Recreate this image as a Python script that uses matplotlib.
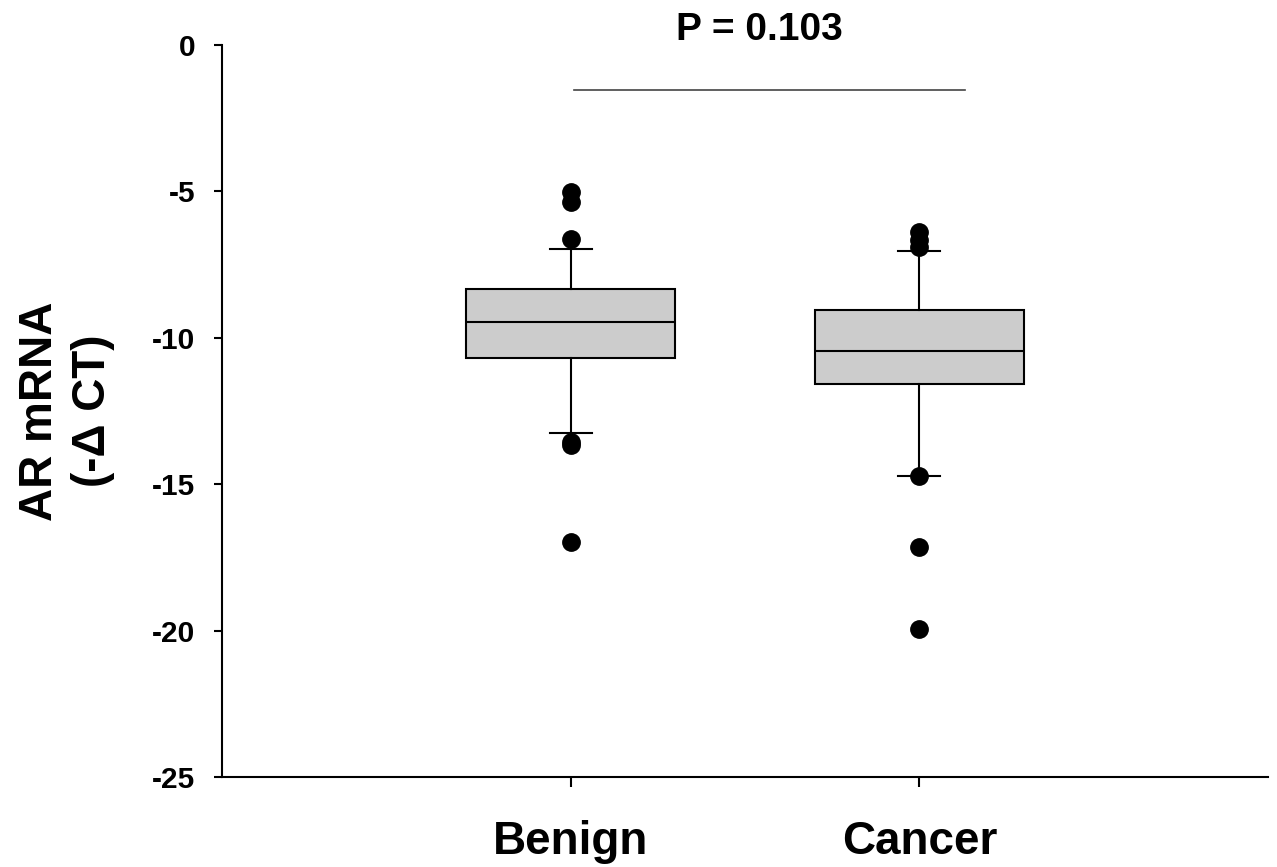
import matplotlib
matplotlib.use("Agg")
import matplotlib.pyplot as plt

plt.rcParams['font.family'] = ['Liberation Sans', 'DejaVu Sans']
plt.rcParams['font.weight'] = 'bold'

# values
groups = ['Benign', 'Cancer']
medians = [-9.46, -10.45]
q1 = [-10.69, -11.58]
q3 = [-8.33, -9.05]
whisk_lo = [-13.25, -14.72]
whisk_hi = [-6.97, -7.04]
outliers = [
    [-5.02, -5.36, -6.63, -13.56, -13.66, -16.97],
    [-6.39, -6.66, -6.90, -14.72, -17.14, -19.95],
]
p_text = 'P = 0.103'
yticks = [0, -5, -10, -15, -20, -25]

stats = []
for i, g in enumerate(groups):
    stats.append(dict(label=g, med=medians[i], q1=q1[i], q3=q3[i],
                      whislo=whisk_lo[i], whishi=whisk_hi[i], fliers=outliers[i]))

fig = plt.figure(figsize=(12.77, 8.67), dpi=100)
ax = fig.add_axes([0.1738, 0.1038, 0.993 - 0.1738, 0.948 - 0.1038])

lw = 1.5
ax.bxp(stats, positions=[1, 2], widths=0.6, patch_artist=True,
       boxprops=dict(facecolor='#cccccc', edgecolor='black', linewidth=lw),
       medianprops=dict(color='black', linewidth=lw),
       whiskerprops=dict(color='black', linewidth=lw),
       capprops=dict(color='black', linewidth=lw),
       capwidths=0.12,
       flierprops=dict(marker='o', markerfacecolor='black', markeredgecolor='black',
                       markersize=12.5, linestyle='none'))

ax.set_xlim(0, 3)
ax.set_ylim(-25, 0)
ax.set_yticks(yticks)
ax.set_yticklabels([str(v) for v in yticks], fontsize=21.5, fontweight='bold')
ax.set_xticks([1, 2])
ax.set_xticklabels(groups, fontsize=33, fontweight='bold')
ax.tick_params(axis='y', length=6, width=1.5, pad=13)
ax.tick_params(axis='x', length=7, width=1.5, pad=24)

for s in ['top', 'right']:
    ax.spines[s].set_visible(False)
for s in ['left', 'bottom']:
    ax.spines[s].set_linewidth(1.5)

ax.set_ylabel('AR mRNA\n(-\u0394 CT)', fontsize=33, fontweight='bold', labelpad=27,
              linespacing=1.25)

# significance bar
ax.plot([1.01, 2.13], [-1.54, -1.54], color='#444444', linewidth=1.2, clip_on=False)
ax.text(1.54, 0.5, p_text, fontsize=28, fontweight='bold', ha='center', va='center',
        clip_on=False)

fig.savefig('out.png', dpi=100)
